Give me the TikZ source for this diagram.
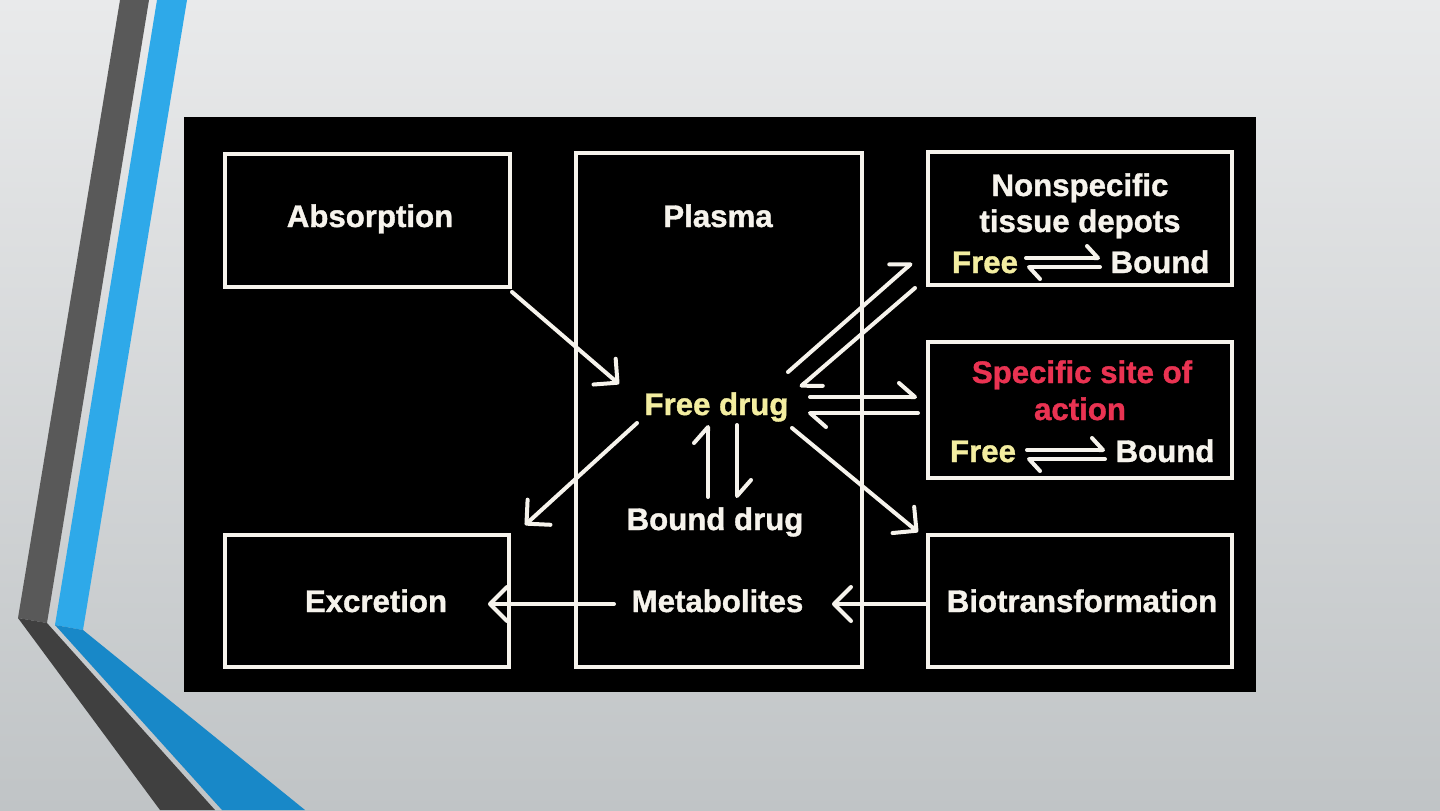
\documentclass[tikz,border=0pt]{standalone}
\usepackage{fontspec}
\setmainfont{Liberation Sans}[BoldFeatures={FakeBold=1.2}]
\usetikzlibrary{arrows.meta}
\definecolor{fgw}{HTML}{F6F3EC}
\definecolor{fgy}{HTML}{F3EDA0}
\definecolor{fgr}{HTML}{EA3352}
\definecolor{bgtop}{HTML}{E9EAEB}
\definecolor{bgbot}{HTML}{C0C4C6}
\definecolor{darkA}{HTML}{595959}
\definecolor{darkB}{HTML}{404040}
\definecolor{blueA}{HTML}{2EA9E9}
\definecolor{blueB}{HTML}{1888C8}
\tikzset{
  box/.style={draw=fgw, line width=2pt, inner sep=0pt},
  lbl/.style={text=fgw, font=\fontsize{15.6pt}{18.5pt}\selectfont\bfseries, inner sep=0pt, anchor=base},
  arr/.style={draw=fgw, line width=2pt, line cap=round, -{Straight Barb[length=8.5pt,width=17pt,round]}},
  harp/.style={draw=fgw, line width=2pt, line cap=round, -{Straight Barb[harpoon,length=8pt,width=14pt,round]}},
  sharp/.style={draw=fgw, line width=2pt, line cap=round, -{Straight Barb[harpoon,length=5.5pt,width=12pt,round]}},
}
\begin{document}
\begin{tikzpicture}[x=0.5pt,y=-0.5pt]
\useasboundingbox (0,0) rectangle (1440,810);
% background
\shade[top color=bgtop, bottom color=bgbot] (0,0) rectangle (1440,810);
% decorative stripes
\fill[darkA] (120,0) -- (149,0) -- (47,623) -- (18,618) -- cycle;
\fill[darkB] (18,618) -- (47,623) -- (215,810) -- (160,810) -- cycle;
\fill[blueA] (157,0) -- (187,0) -- (83,630) -- (55,625) -- cycle;
\fill[blueB] (55,625) -- (83,630) -- (305,810) -- (222,810) -- cycle;
% black panel
\fill[black] (184,117) rectangle (1256,692);
% boxes
\node[box, minimum width=142.5pt, minimum height=66.5pt] (abs) at (367.5,220.5) {};
\node[box, minimum width=143pt, minimum height=257pt] (pla) at (719,410) {};
\node[box, minimum width=152pt, minimum height=66.5pt] (nsb) at (1080,218.5) {};
\node[box, minimum width=152pt, minimum height=68pt] (ssb) at (1080,410) {};
\node[box, minimum width=152pt, minimum height=66pt] (bio) at (1080,601) {};
\node[box, minimum width=142pt, minimum height=66pt] (exc) at (367,601) {};
% texts
\node[lbl] (tabs) at (370,227) {Absorption};
\node[lbl] (tpla) at (718,227) {Plasma};
\node[lbl] (tns1) at (1080,196) {Nonspecific};
\node[lbl] (tns2) at (1080,232) {tissue depots};
\node[lbl, text=fgy] (tnsf) at (985,273) {Free};
\node[lbl] (tnsb) at (1160,273) {Bound};
\node[lbl, text=fgr] (tss1) at (1082,383) {Specific site of};
\node[lbl, text=fgr] (tss2) at (1080,420) {action};
\node[lbl, text=fgy] (tssf) at (983,462) {Free};
\node[lbl] (tssb) at (1165,462) {Bound};
\node[lbl, text=fgy] (tfd) at (716.5,415) {Free drug};
\node[lbl] (tbd) at (715,530) {Bound drug};
\node[lbl] (tmet) at (717.5,612) {Metabolites};
\node[lbl] (texc) at (376,612) {Excretion};
\node[lbl] (tbio) at (1082,612) {Biotransformation};
% connector end points
\coordinate (a1s) at (512,292); \coordinate (a1e) at (619,384);
\coordinate (a2s) at (637,423); \coordinate (a2e) at (525,525);
\coordinate (a3s) at (792,428); \coordinate (a3e) at (918,532);
\coordinate (a4s) at (614,604); \coordinate (a4e) at (488,604);
\coordinate (a5s) at (927,604); \coordinate (a5e) at (832,604);
\coordinate (h1s) at (788,372); \coordinate (h1e) at (912,263);
\coordinate (h2s) at (915,288); \coordinate (h2e) at (800,387);
\coordinate (h3s) at (810,397); \coordinate (h3e) at (917,397);
\coordinate (h4s) at (918,413); \coordinate (h4e) at (808,413);
\coordinate (h5s) at (708,497); \coordinate (h5e) at (708,425);
\coordinate (h6s) at (737,425); \coordinate (h6e) at (737,498);
\coordinate (h7s) at (1026,258); \coordinate (h7e) at (1100,258);
\coordinate (h8s) at (1100,267); \coordinate (h8e) at (1027,267);
\coordinate (h9s) at (1027,450); \coordinate (h9e) at (1105,450);
\coordinate (h10s) at (1105,459); \coordinate (h10e) at (1027,459);
% arrows
\draw[arr] (a1s) -- (a1e);
\draw[arr] (a2s) -- (a2e);
\draw[arr] (a3s) -- (a3e);
\draw[arr] (a4s) -- (a4e);
\draw[arr] (a5s) -- (a5e);
\draw[harp] (h1s) -- (h1e);
\draw[harp] (h2s) -- (h2e);
\draw[harp] (h3s) -- (h3e);
\draw[harp] (h4s) -- (h4e);
\draw[harp] (h5s) -- (h5e);
\draw[harp] (h6s) -- (h6e);
\draw[sharp] (h7s) -- (h7e);
\draw[sharp] (h8s) -- (h8e);
\draw[sharp] (h9s) -- (h9e);
\draw[sharp] (h10s) -- (h10e);
\end{tikzpicture}
\end{document}
